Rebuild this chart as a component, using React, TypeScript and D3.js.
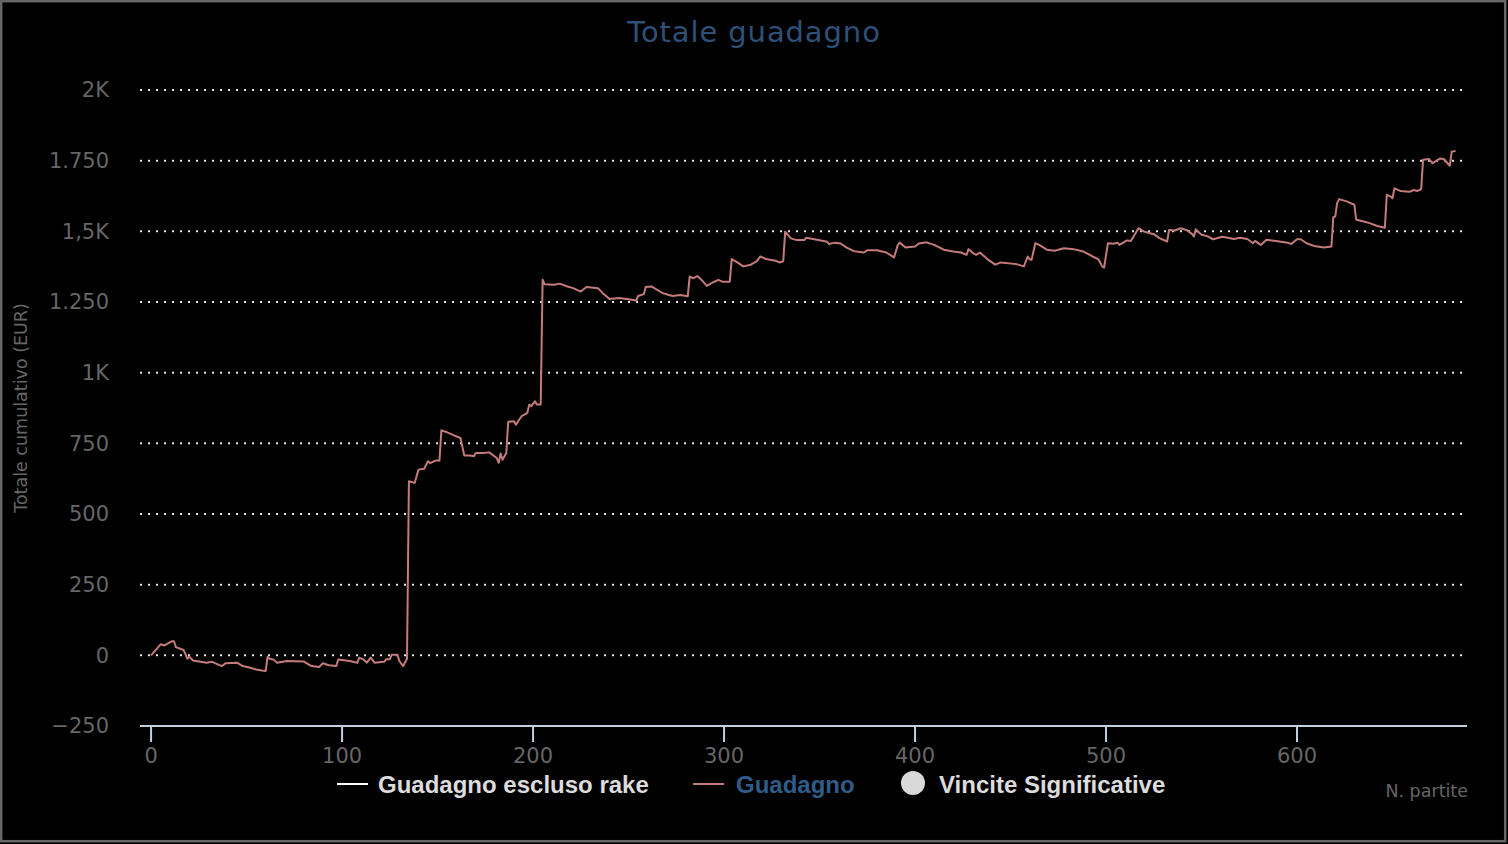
import React from 'react';
import * as d3 from 'd3';

// N. partite (game index) and cumulative winnings
const partite = [
  0, 5, 7, 11, 12, 13, 17, 19, 20, 22, 29, 32, 37, 39, 45, 48, 52, 55, 58, 60,
  61, 62, 64, 66, 71, 80, 84, 88, 90, 93, 97, 98, 104, 108, 109, 111, 113, 115, 117, 122,
  123, 125, 126, 129, 130, 132, 134, 135, 138, 140, 143, 145, 146, 149, 151, 152, 155, 159, 162, 164,
  167, 169, 170, 174, 177, 181, 182, 183, 184, 186, 187, 190, 191, 194, 197, 198, 199, 201, 202, 204,
  205, 206, 211, 214, 218, 221, 225, 228, 234, 237, 240, 245, 250, 254, 255, 258, 259, 262, 265, 268,
  273, 277, 281, 282, 284, 286, 288, 291, 294, 297, 299, 303, 304, 307, 310, 314, 317, 319, 322, 327,
  329, 331, 332, 335, 338, 342, 343, 348, 354, 355, 358, 361, 364, 368, 373, 375, 380, 385, 389, 391,
  392, 395, 400, 402, 406, 410, 415, 420, 424, 427, 428, 430, 432, 434, 438, 442, 445, 453, 457, 459,
  460, 461, 463, 465, 469, 473, 478, 483, 488, 493, 496, 498, 499, 501, 504, 506, 507, 511, 513, 517,
  520, 525, 528, 532, 533, 536, 539, 542, 545, 546, 547, 550, 553, 556, 561, 567, 570, 574, 577, 578,
  581, 584, 589, 595, 597, 600, 602, 605, 609, 614, 618, 619, 620, 621, 622, 626, 630, 631, 635, 638,
  642, 646, 647, 649, 650, 651, 654, 659, 661, 663, 665, 666, 669, 671, 675, 677, 680, 681, 683,
];

const guadagno = [
  0, 39, 35, 50, 50, 29, 19, -12, -5, -18, -26, -23, -38, -28, -26, -38, -44, -50, -54, -55,
  -5, -12, -15, -26, -20, -22, -38, -41, -28, -35, -38, -15, -20, -26, -8, -14, -26, -8, -26, -23,
  -14, -14, 2, 2, -20, -38, -12, 616, 610, 657, 660, 687, 680, 689, 689, 796, 789, 777, 769, 707,
  707, 704, 716, 716, 718, 698, 681, 714, 692, 716, 826, 828, 816, 846, 858, 887, 881, 899, 887, 887,
  1329, 1313, 1311, 1315, 1305, 1299, 1287, 1303, 1299, 1278, 1261, 1264, 1260, 1255, 1271, 1278, 1303, 1305, 1293, 1281,
  1271, 1275, 1270, 1340, 1334, 1342, 1330, 1307, 1319, 1328, 1322, 1322, 1402, 1390, 1376, 1382, 1394, 1411, 1402, 1396,
  1390, 1394, 1499, 1475, 1469, 1469, 1477, 1471, 1463, 1455, 1460, 1457, 1443, 1430, 1425, 1433, 1433, 1425, 1408, 1452,
  1460, 1443, 1446, 1457, 1461, 1452, 1435, 1429, 1425, 1417, 1437, 1425, 1417, 1425, 1401, 1382, 1390, 1384, 1376, 1411,
  1401, 1399, 1458, 1452, 1435, 1431, 1440, 1437, 1429, 1411, 1401, 1376, 1372, 1458, 1456, 1460, 1452, 1468, 1466, 1511,
  1499, 1490, 1476, 1464, 1505, 1503, 1511, 1505, 1491, 1482, 1507, 1488, 1483, 1472, 1481, 1473, 1477, 1473, 1458, 1466,
  1452, 1470, 1466, 1460, 1455, 1472, 1472, 1458, 1448, 1443, 1446, 1550, 1552, 1600, 1614, 1606, 1594, 1541, 1535, 1529,
  1519, 1513, 1629, 1623, 1617, 1652, 1643, 1640, 1646, 1643, 1649, 1753, 1756, 1741, 1758, 1755, 1732, 1782, 1784,
];

const yTicks = [-250, 0, 250, 500, 750, 1000, 1250, 1500, 1750, 2000];
const yTickLabels = ['−250', '0', '250', '500', '750', '1K', '1.250', '1,5K', '1.750', '2K'];
const xTicks = [0, 100, 200, 300, 400, 500, 600];

const legendItems = ['Guadagno escluso rake', 'Guadagno', 'Vincite Significative'];

const W = 1508;
const H = 844;
const LINE_COLOR = '#c47b7b';
const AXIS_COLOR = '#c0d0e0';

export default function App() {
  const x = d3.scaleLinear().domain([-5.8, 689]).range([140, 1467]);
  const y = d3.scaleLinear().domain([-250, 2000]).range([726, 90]);

  const points = partite.map((p, i) => [p, guadagno[i]] as [number, number]);
  const line = d3
    .line<[number, number]>()
    .x(d => x(d[0]))
    .y(d => y(d[1]));

  const labelFont = "'DejaVu Sans', sans-serif";
  const legendFont = "'Liberation Sans', Arial, sans-serif";

  return (
    <div style={{ position: 'absolute', left: 0, top: 0 }}>
      <svg width={W} height={H} style={{ display: 'block', background: '#000' }}>
        <rect x={0} y={0} width={W} height={H} fill="#000" />
        <rect x={1.2} y={1.2} width={1504} height={840} fill="none" stroke="#666" strokeWidth={2.5} />

        {/* title */}
        <text
          x={754}
          y={42}
          textAnchor="middle"
          fontFamily={labelFont}
          fontSize={29}
          letterSpacing={0.9}
          fill="#2e5078"
        >
          Totale guadagno
        </text>

        {/* grid lines + y labels */}
        {yTicks.map((t, i) => (
          <g key={t}>
            {t !== -250 && (
              <line
                x1={140}
                x2={1466}
                y1={y(t)}
                y2={y(t)}
                stroke="#e6e6e6"
                strokeWidth={2}
                strokeDasharray="2 6"
              />
            )}
            <text
              x={109}
              y={y(t)}
              dy="0.35em"
              textAnchor="end"
              fontFamily={labelFont}
              fontSize={21}
              fill="#666"
            >
              {yTickLabels[i]}
            </text>
          </g>
        ))}

        {/* y axis title */}
        <text
          transform={`translate(27,${(y(-250) + y(2000)) / 2}) rotate(-90)`}
          textAnchor="middle"
          fontFamily={labelFont}
          fontSize={17.5}
          fill="#666"
        >
          Totale cumulativo (EUR)
        </text>

        {/* x axis */}
        <line x1={140} x2={1467} y1={y(-250)} y2={y(-250)} stroke={AXIS_COLOR} strokeWidth={2} />
        {xTicks.map(t => (
          <g key={t}>
            <line x1={x(t)} x2={x(t)} y1={y(-250)} y2={y(-250) + 16} stroke={AXIS_COLOR} strokeWidth={2} />
            <text
              x={x(t)}
              y={763}
              textAnchor="middle"
              fontFamily={labelFont}
              fontSize={21}
              fill="#666"
            >
              {t}
            </text>
          </g>
        ))}
        <text x={1468} y={797} textAnchor="end" fontFamily={labelFont} fontSize={17.5} fill="#666">
          N. partite
        </text>

        {/* series */}
        <path d={line(points) || ''} fill="none" stroke={LINE_COLOR} strokeWidth={2} strokeLinejoin="round" />

        {/* legend */}
        <g fontFamily={legendFont} fontWeight="bold" fontSize={24}>
          <line x1={337} x2={368} y1={784} y2={784} stroke="#ffffff" strokeWidth={2} />
          <text x={378} y={793} fill="#dcdcdc">{legendItems[0]}</text>
          <line x1={693} x2={724} y1={784} y2={784} stroke={LINE_COLOR} strokeWidth={2} />
          <text x={736} y={793} fill="#2f5c88">{legendItems[1]}</text>
          <circle cx={913} cy={783} r={12} fill="#d9d9d9" />
          <text x={939} y={793} fill="#dcdcdc">{legendItems[2]}</text>
        </g>
      </svg>
    </div>
  );
}
